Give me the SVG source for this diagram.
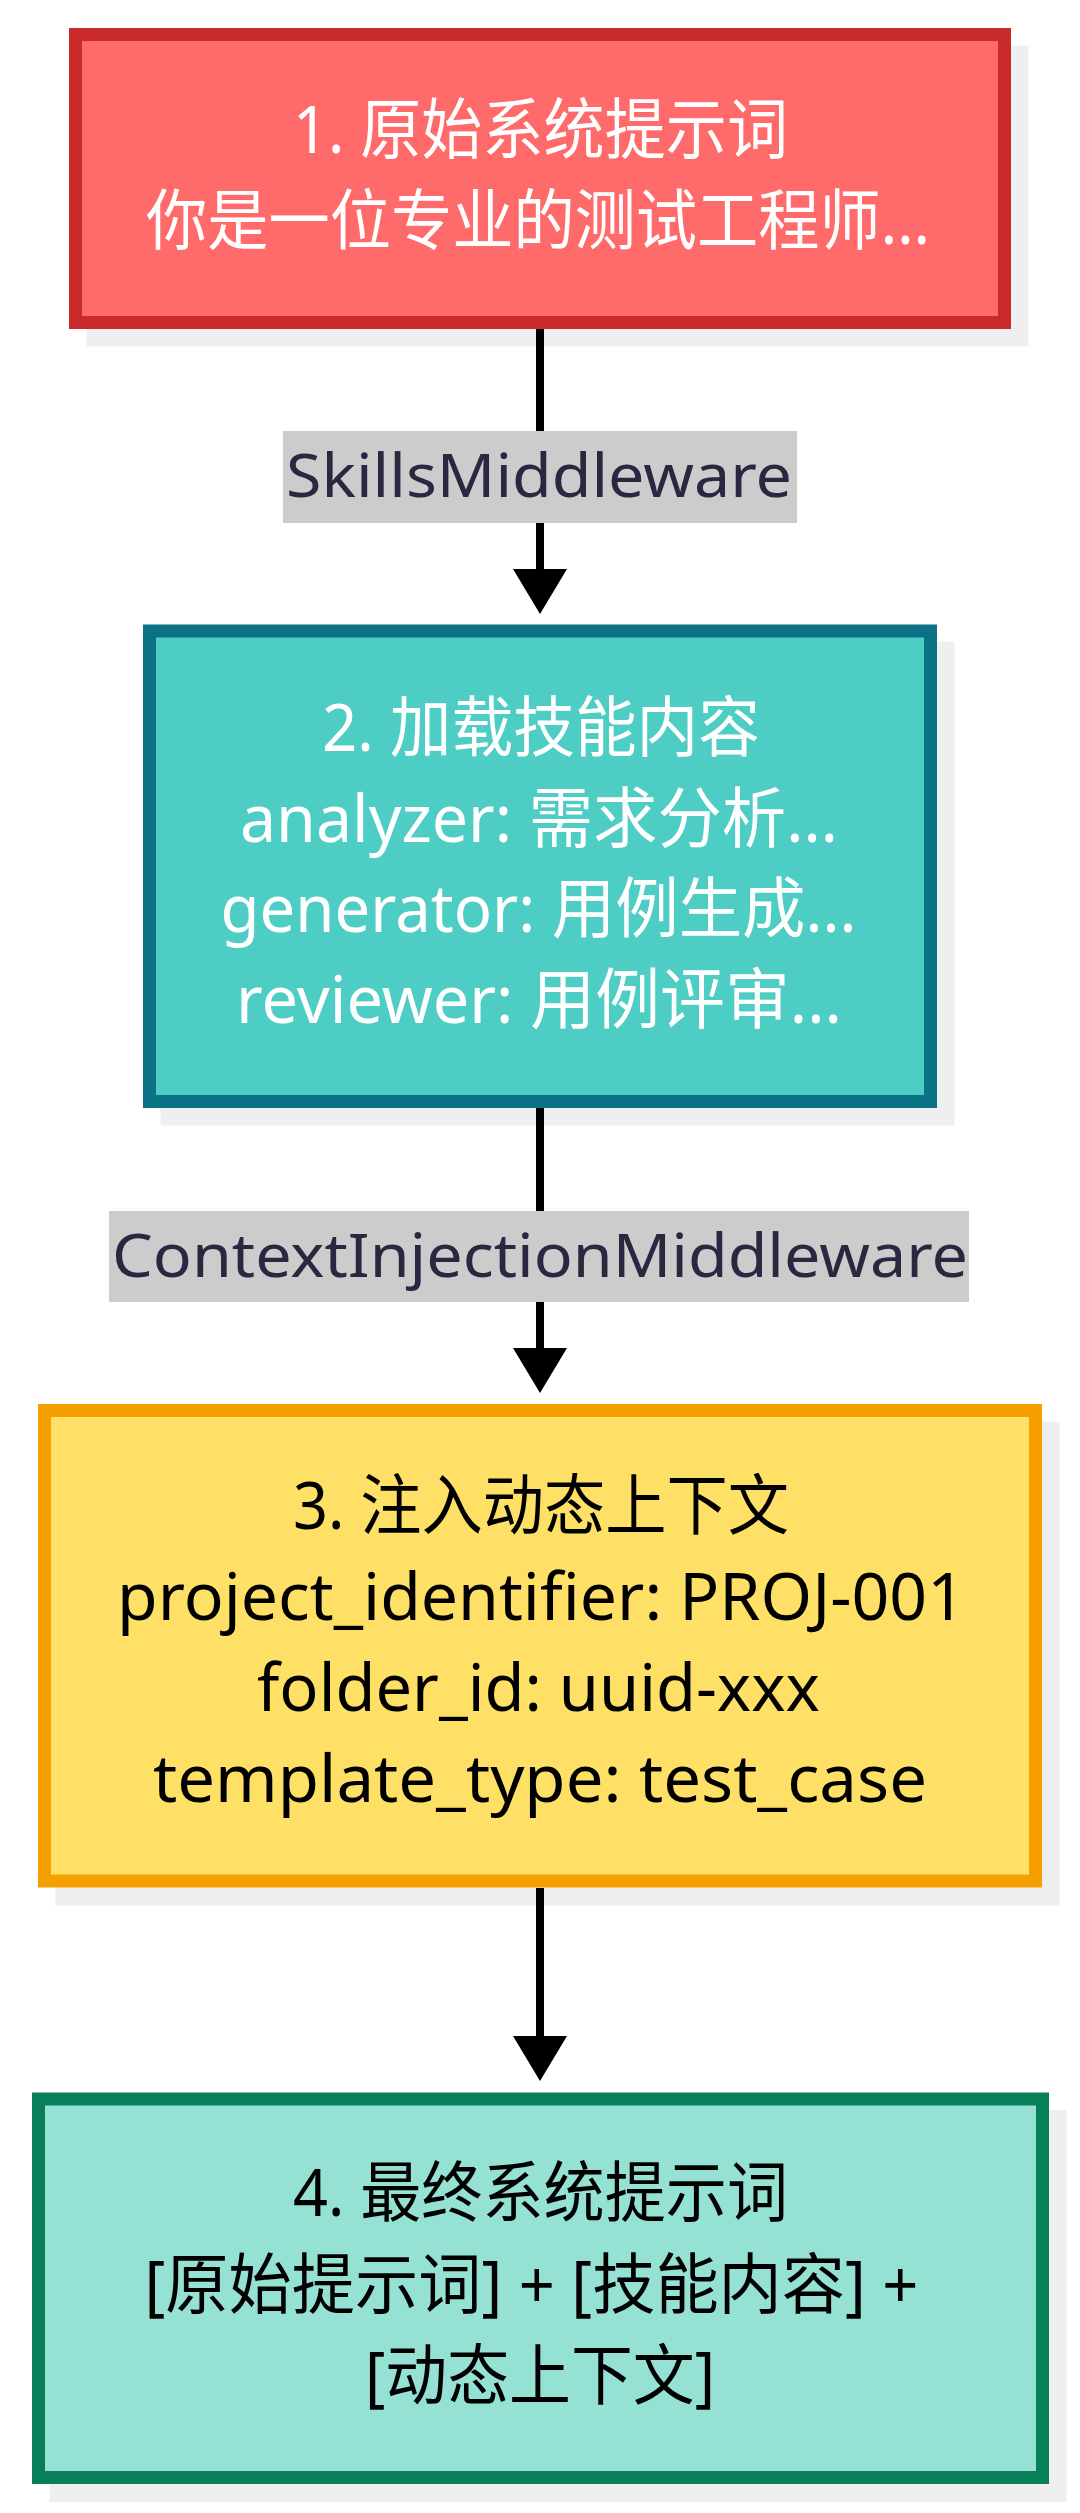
<svg xmlns="http://www.w3.org/2000/svg" width="1080" height="2513" viewBox="0 0 1080 2513">
<style>
  .shadow { fill: #efefef; }
  .node { stroke-width: 13; }
  .t { font-family: "Noto Sans", "Noto Sans CJK SC", sans-serif; font-size: 66px; }
  .w { fill: #ffffff; }
  .k { fill: #000000; }
  .edge { stroke: #000000; stroke-width: 8; fill: none; }
  .lblbg { fill: #cccccc; }
  .lbl { font-family: "Noto Sans", "Noto Sans CJK SC", sans-serif; font-size: 61px; fill: #2a2840; }
</style>
<defs>
  <marker id="arrow" viewBox="0 0 45 54" refX="0" refY="27" markerWidth="45" markerHeight="54" markerUnits="userSpaceOnUse" orient="auto">
    <path d="M0,0 L45,27 L0,54 Z" fill="#000000"/>
  </marker>
</defs>
<rect width="1080" height="2513" fill="#ffffff"/>

<g id="node1">
  <rect class="shadow" x="86.5" y="45.5" width="942" height="301"/>
  <rect class="node" x="75.5" y="34.5" width="929" height="288" fill="#ff6b6b" stroke="#c92a2a"/>
  <text class="t w" x="293" y="153" textLength="495" lengthAdjust="spacingAndGlyphs">1. 原始系统提示词</text>
  <text class="t w" x="146" y="244" textLength="784" lengthAdjust="spacingAndGlyphs">你是一位专业的测试工程师...</text>
</g>

<g id="node2">
  <rect class="shadow" x="160.5" y="641.5" width="794" height="484"/>
  <rect class="node" x="149.5" y="631" width="781" height="470.5" fill="#4ecdc4" stroke="#0b7285"/>
  <text class="t w" x="322" y="750.5" textLength="438" lengthAdjust="spacingAndGlyphs">2. 加载技能内容</text>
  <text class="t w" x="240" y="841.5" textLength="598" lengthAdjust="spacingAndGlyphs">analyzer: 需求分析...</text>
  <text class="t w" x="220.5" y="932" textLength="636" lengthAdjust="spacingAndGlyphs">generator: 用例生成...</text>
  <text class="t w" x="236" y="1022.5" textLength="606" lengthAdjust="spacingAndGlyphs">reviewer: 用例评审...</text>
</g>

<g id="node3">
  <rect class="shadow" x="55.5" y="1421.5" width="1004" height="484"/>
  <rect class="node" x="44.5" y="1410.5" width="991" height="470.5" fill="#ffe066" stroke="#f59f00"/>
  <text class="t k" x="293" y="1529" textLength="496" lengthAdjust="spacingAndGlyphs">3. 注入动态上下文</text>
  <text class="t k" x="117" y="1619.5" textLength="848" lengthAdjust="spacingAndGlyphs">project_identifier: PROJ-001</text>
  <text class="t k" x="257" y="1711" textLength="563" lengthAdjust="spacingAndGlyphs">folder_id: uuid-xxx</text>
  <text class="t k" x="153" y="1802" textLength="774" lengthAdjust="spacingAndGlyphs">template_type: test_case</text>
</g>

<g id="node4">
  <rect class="shadow" x="49.5" y="2110" width="1017" height="392"/>
  <rect class="node" x="38.5" y="2099" width="1004" height="378.5" fill="#95e1d3" stroke="#087f5b"/>
  <text class="t k" x="293" y="2216" textLength="495" lengthAdjust="spacingAndGlyphs">4. 最终系统提示词</text>
  <text class="t k" x="144.5" y="2307.5" textLength="774" lengthAdjust="spacingAndGlyphs">[原始提示词] + [技能内容] +</text>
  <text class="t k" x="365" y="2398.5" textLength="350" lengthAdjust="spacingAndGlyphs">[动态上下文]</text>
</g>

<g id="connectors">
  <line class="edge" x1="540" y1="329" x2="540" y2="569" marker-end="url(#arrow)"/>
  <line class="edge" x1="540" y1="1108" x2="540" y2="1348" marker-end="url(#arrow)"/>
  <line class="edge" x1="540" y1="1888" x2="540" y2="2036" marker-end="url(#arrow)"/>
  <g id="label1">
    <rect class="lblbg" x="283" y="431" width="514" height="92"/>
    <text class="lbl" x="286" y="497" textLength="506" lengthAdjust="spacingAndGlyphs">SkillsMiddleware</text>
  </g>
  <g id="label2">
    <rect class="lblbg" x="109" y="1211" width="860" height="91"/>
    <text class="lbl" x="112" y="1277" textLength="856" lengthAdjust="spacingAndGlyphs">ContextInjectionMiddleware</text>
  </g>
</g>
</svg>
